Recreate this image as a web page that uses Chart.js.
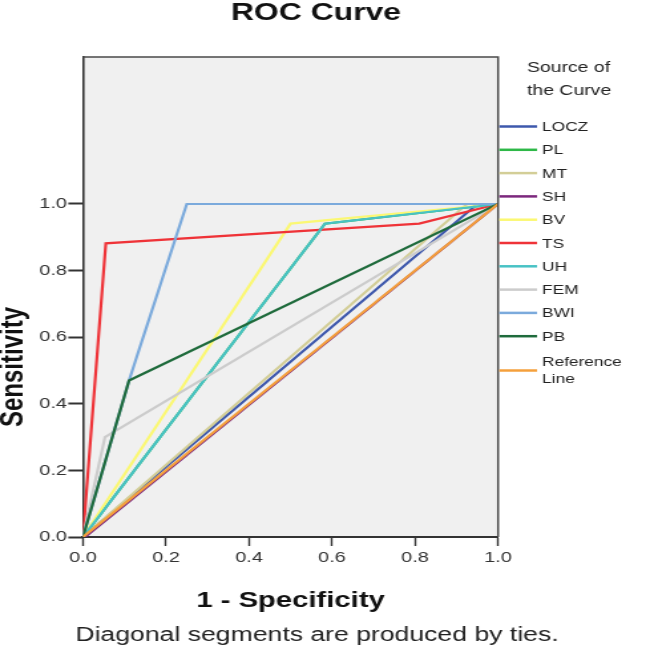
<!DOCTYPE html>
<html><head><meta charset="utf-8">
<script src="https://cdn.jsdelivr.net/npm/chart.js@4.4.0/dist/chart.umd.min.js"></script>
<style>
html,body{margin:0;padding:0;background:#fff;overflow:hidden}
#wrap{width:486px;height:653px;transform:scaleX(1.329218);transform-origin:0 0;}
canvas{display:block}
</style></head><body>
<div id="wrap"><canvas id="c" width="486" height="653"></canvas></div>
<script>
// ---- data (1 - Specificity on x, Sensitivity on y) ----
const xTicks = [0, 0.2, 0.4, 0.6, 0.8, 1.0];
const yTicks = [0, 0.2, 0.4, 0.6, 0.8, 1.0];
const curveNames = ['LOCZ','PL','MT','SH','BV','TS','UH','FEM','BWI','PB','Reference Line'];
const LOCZ_x = [0, 0.95, 1];        const LOCZ_y = [0, 1, 1];
const PL_x   = [0, 0.583, 1];       const PL_y   = [0, 0.941, 1];
const MT_x   = [0, 0.925, 1];       const MT_y   = [0, 1, 1];
const SH_x   = [0, 0.005, 1];       const SH_y   = [0, 0, 1];
const BV_x   = [0, 0.5, 1];         const BV_y   = [0, 0.941, 1];
const TS_x   = [0, 0.055, 0.81, 1]; const TS_y   = [0, 0.882, 0.941, 1];
const UH_x   = [0, 0.583, 1];       const UH_y   = [0, 0.941, 1];
const FEM_x  = [0, 0.053, 1];       const FEM_y  = [0, 0.3, 1];
const BWI_x  = [0, 0.111, 0.25, 1]; const BWI_y  = [0, 0.47, 1, 1];
const PB_x   = [0, 0.111, 1];       const PB_y   = [0, 0.47, 1];
const REF_x  = [0, 1];              const REF_y  = [0, 1];
const colors = ['#3E58AC','#2EB848','#D3CE97','#7C287D','#FBF873','#EF3338','#48C2C5','#CCCCCC','#7BAADC','#1F6B3C','#F5A03C'];

const xs = [LOCZ_x, PL_x, MT_x, SH_x, BV_x, TS_x, UH_x, FEM_x, BWI_x, PB_x, REF_x];
const ys = [LOCZ_y, PL_y, MT_y, SH_y, BV_y, TS_y, UH_y, FEM_y, BWI_y, PB_y, REF_y];
const N = curveNames.length;
const datasets = curveNames.map((name, i) => ({
  label: name,
  data: xs[i].map((x, k) => ({x: x, y: ys[i][k]})),
  borderColor: colors[i],
  backgroundColor: colors[i],
  borderWidth: 2.2,
  pointRadius: 0,
  fill: false,
  tension: 0,
  order: N - i
}));

const FONT = '"Liberation Sans", Arial, sans-serif';

const framePlugin = {
  id: 'frame',
  beforeDraw(chart) {
    const a = chart.chartArea, ctx = chart.ctx;
    ctx.save();
    ctx.fillStyle = '#F0F0F0';
    ctx.fillRect(a.left, a.top, a.right - a.left, a.bottom - a.top);
    ctx.restore();
  },
  afterDatasetsDraw(chart) {
    const a = chart.chartArea, ctx = chart.ctx;
    ctx.save();
    ctx.strokeStyle = '#4a4a4a';
    ctx.lineWidth = 1.5;
    ctx.beginPath();
    ctx.moveTo(a.left, a.top);
    ctx.lineTo(a.right, a.top);
    ctx.lineTo(a.right, a.bottom);
    ctx.stroke();
    ctx.restore();
  }
};

const textPlugin = {
  id: 'texts',
  afterDraw(chart) {
    const ctx = chart.ctx, a = chart.chartArea;
    ctx.save();
    ctx.fillStyle = '#111';
    ctx.textBaseline = 'middle';
    ctx.textAlign = 'center';
    ctx.font = 'bold 24px ' + FONT;
    ctx.fillText('ROC Curve', 237.7, 13);
    ctx.font = 'bold 22px ' + FONT;
    ctx.fillText('1 - Specificity', (a.left + a.right) / 2, 601);
    ctx.save();
    ctx.translate(10.5, 367);
    ctx.rotate(-Math.PI / 2);
    ctx.font = 'bold 24px ' + FONT;
    ctx.fillText('Sensitivity', 0, 0);
    ctx.restore();
    ctx.fillStyle = '#222';
    ctx.font = '20px ' + FONT;
    ctx.fillText('Diagonal segments are produced by ties.', 238.5, 635);
    // legend
    ctx.textAlign = 'left';
    ctx.font = '14.6px ' + FONT;
    ctx.fillText('Source of', 396.5, 68);
    ctx.fillText('the Curve', 396.5, 91);
    ctx.font = '13px ' + FONT;
    const x0 = a.right + 1, x1 = 404, tx = 407.8;
    chart.data.datasets.forEach((ds, i) => {
      const y = 126.5 + i * 23.3 + (i === N - 1 ? 11 : 0);
      ctx.strokeStyle = ds.borderColor;
      ctx.lineWidth = 2.5;
      ctx.beginPath();
      ctx.moveTo(x0, y);
      ctx.lineTo(x1, y);
      ctx.stroke();
      ctx.fillStyle = '#222';
      const parts = ds.label === 'Reference Line' ? ['Reference', 'Line'] : [ds.label];
      if (parts.length === 1) ctx.fillText(parts[0], tx, y + 1);
      else { ctx.fillText(parts[0], tx, y - 8); ctx.fillText(parts[1], tx, y + 9); }
    });
    ctx.restore();
  }
};

new Chart(document.getElementById('c'), {
  type: 'line',
  data: { datasets: datasets },
  plugins: [framePlugin, textPlugin],
  options: {
    responsive: false,
    animation: false,
    devicePixelRatio: 1,
    layout: { padding: { top: 57, right: 111.3, left: 0, bottom: 0 } },
    plugins: { legend: { display: false }, tooltip: { enabled: false }, title: { display: false } },
    scales: {
      x: {
        type: 'linear', position: 'bottom', min: 0, max: 1,
        afterFit(s) { s.height = 116; },
        afterBuildTicks(s) { s.ticks = xTicks.map(v => ({ value: v })); },
        ticks: { callback: v => Number(v).toFixed(1), font: { family: FONT, size: 15 }, color: '#333', padding: 3, maxRotation: 0, autoSkip: false },
        grid: { drawOnChartArea: false, drawTicks: true, tickLength: 9, tickColor: '#333', tickWidth: 1.4 },
        border: { display: true, color: '#333', width: 2 }
      },
      y: {
        type: 'linear', position: 'left', min: 0, max: 1.4414,
        afterFit(s) { s.width = 62.4; },
        afterBuildTicks(s) { s.ticks = yTicks.map(v => ({ value: v })); },
        ticks: { callback: v => Number(v).toFixed(1), font: { family: FONT, size: 15 }, color: '#333', padding: 1, autoSkip: false },
        grid: { drawOnChartArea: false, drawTicks: true, tickLength: 11, tickColor: '#333', tickWidth: 2 },
        border: { display: true, color: '#333', width: 1.6 }
      }
    }
  }
});
</script>
</body></html>
